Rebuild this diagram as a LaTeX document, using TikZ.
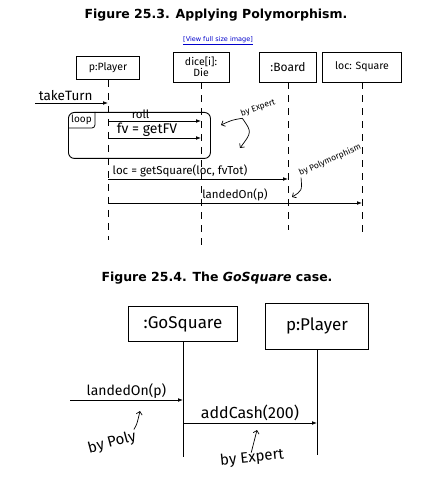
\documentclass[tikz,border=0pt]{standalone}
\usepackage{fontspec}
\usepackage{xcolor}
\usepackage{tikz}
\usetikzlibrary{positioning, arrows.meta}
\newfontfamily\titlefont{DejaVu Sans}
\newfontfamily\handfont{Fira Sans}
\definecolor{linkblue}{RGB}{0,0,204}

\begin{document}
\begin{tikzpicture}[x=1pt, y=-1pt,
  title/.style={font=\titlefont\bfseries\fontsize{12.5}{14}\selectfont},
  link/.style={font=\titlefont\fontsize{6.5}{7}\selectfont, text=linkblue, inner sep=1pt},
  head/.style={draw, line width=0.9pt, inner sep=2pt, align=center,
               font=\handfont\fontsize{10.5}{11}\selectfont},
  bighead/.style={head, font=\handfont\fontsize{17}{19}\selectfont},
  life/.style={line width=0.8pt, dash pattern=on 7pt off 6pt},
  msg/.style={-{Latex[length=5pt]}, line width=0.8pt},
  lbl/.style={font=\handfont\fontsize{11.5}{13}\selectfont, inner sep=1.5pt},
  biglbl/.style={font=\handfont\fontsize{14}{16}\selectfont, inner sep=1.5pt},
  note/.style={font=\handfont\fontsize{8.5}{10}\selectfont, inner sep=0pt},
  bignote/.style={font=\handfont\fontsize{15}{17}\selectfont, inner sep=0pt},
  hint/.style={-{Straight Barb[length=3pt]}, line width=0.7pt}]
  \useasboundingbox[fill=white] (0,0) rectangle (421,494);

  % Figure 25.3
  \node[title] (fig3) at (216,15) {Figure 25.3. Applying Polymorphism.};
  \node[link] (view) at (218,41) {\underline{[View full size image]}};
  \node[head, minimum width=63, minimum height=23] (player) at (108,68) {p:Player};
  \node[head, minimum width=56, minimum height=30] (dice) at (201,67) {dice[i]:\\Die};
  \node[head, minimum width=57, minimum height=30, font=\handfont\fontsize{12}{13}\selectfont] (board) at (288,67) {:Board};
  \node[head, minimum width=79, minimum height=30] (square) at (362,67) {loc: Square};
  \coordinate (playerend) at (108,240);
  \coordinate (diceend) at (201,245);
  \coordinate (boardend) at (288,230);
  \coordinate (squareend) at (362,238);
  \draw[life] (player.south) -- (playerend);
  \draw[life] (dice.south) -- (diceend);
  \draw[life] (board.south) -- (boardend);
  \draw[life] (square.south) -- (squareend);

  \coordinate (ttin) at (35,103);
  \draw[msg] (ttin) -- node[lbl, above, pos=0.42, font=\handfont\fontsize{13.5}{15}\selectfont] {takeTurn} (ttin -| player);
  \node[draw, line width=0.9pt, rounded corners=6pt, minimum width=142, minimum height=46,
        anchor=north west] (loopbox) at (68,112) {};
  \node[note, anchor=north west, inner sep=3pt, font=\handfont\fontsize{10}{11}\selectfont] (looptag) at (loopbox.north west) {loop};
  \draw[line width=0.8pt, rounded corners=3pt] (looptag.south west) -- (looptag.south east) -- (looptag.north east);
  \coordinate (yroll) at (0,121);
  \draw[msg] (player |- yroll) -- node[lbl, above, pos=0.35] {roll} (dice |- yroll);
  \coordinate (yfv) at (0,138);
  \draw[msg] (player |- yfv) -- node[lbl, above, pos=0.42, font=\handfont\fontsize{14}{15}\selectfont] {fv = getFV} (dice |- yfv);
  \coordinate (ysq) at (0,179);
  \draw[msg] (player |- ysq) -- node[lbl, above, pos=0.4] {loc = getSquare(loc, fvTot)} (board |- ysq);
  \coordinate (ylo) at (0,203);
  \draw[msg] (player |- ylo) -- node[lbl, above, pos=0.5] {landedOn(p)} (square |- ylo);

  \node[note, rotate=20] (expert) at (258,108) {by Expert};
  \coordinate (loopnote) at (221,125);
  \coordinate (experttip) at (240,148);
  \draw[hint] (expert.south west) .. controls (232,120) .. (loopnote);
  \draw[hint] (expert.south west) .. controls (252,132) .. (experttip);
  \node[note, rotate=24] (poly) at (330,160) {by Polymorphism};
  \coordinate (polytip) at (292,197);
  \draw[hint] (poly.south west) .. controls +(1,13) .. (polytip);

  % Figure 25.4
  \node[title] (fig4) at (217,278) {Figure 25.4. The \textit{GoSquare} case.};
  \node[bighead, minimum width=109, minimum height=35] (gosq) at (183,324) {:GoSquare};
  \node[bighead, minimum width=103, minimum height=46] (pplayer) at (317,326) {p:Player};
  \coordinate (gosqend) at (183,457);
  \coordinate (pplayerend) at (317,455);
  \draw[line width=0.9pt] (gosq.south) -- (gosqend);
  \draw[line width=0.9pt] (pplayer.south) -- (pplayerend);
  \coordinate (gin) at (70,400);
  \draw[msg] (gin) -- node[biglbl, above] {landedOn(p)} (gin -| gosq);
  \coordinate (ycash) at (0,423);
  \draw[msg] (gosq |- ycash) -- node[biglbl, above, font=\handfont\fontsize{16}{18}\selectfont] {addCash(200)} (pplayer |- ycash);
  \node[bignote, rotate=15] (bypoly) at (112,443) {by Poly};
  \coordinate (polyup) at (140,411);
  \draw[hint] (bypoly.north east) .. controls +(3,-5) .. (polyup);
  \node[bignote, rotate=6] (byexp) at (252,458) {by Expert};
  \coordinate (expup) at (257,430);
  \draw[hint] ([yshift=-2pt]byexp.north) -- (expup);
\end{tikzpicture}
\end{document}
